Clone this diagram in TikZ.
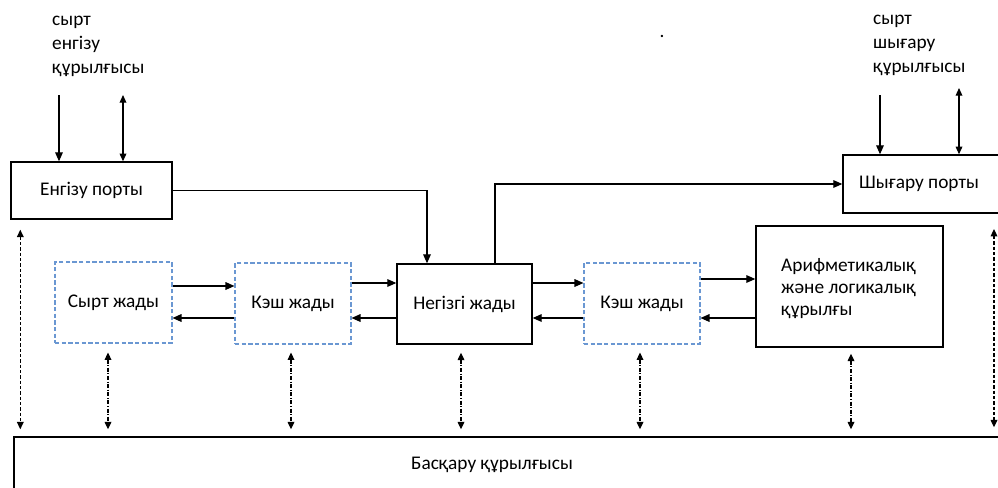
\documentclass[tikz,border=0pt]{standalone}
\usepackage{fontspec}
\setmainfont{Carlito}
\usetikzlibrary{
  arrows.meta,
  positioning,
}
\definecolor{cacheBlue}{HTML}{6A97D2}
\tikzset{
  unitbox/.style={
    rectangle, draw=black, line width=1.2pt, fill=white, inner sep=0pt,
    align=center, font=\fontsize{16.5}{20}\selectfont,
  },
  cachebox/.style={
    unitbox, draw=cacheBlue, line width=0.9pt,
    dash pattern=on 1.3mm off 0.7mm,
  },
  plainlabel/.style={
    inner sep=0pt, align=left, font=\fontsize{16.5}{20.5}\selectfont,
  },
  arrowMain/.style={
    -{Triangle[length=2.7mm,width=2.3mm]}, line width=1pt, draw=black,
  },
  arrowBoth/.style={
    {Triangle[length=2.3mm,width=2mm]}-{Triangle[length=2.3mm,width=2mm]},
    line width=1pt, draw=black,
  },
  ctrlDashDot/.style={
    {Triangle[length=2.2mm,width=2mm]}-{Triangle[length=2.2mm,width=2mm]},
    line width=1pt, draw=black,
    dash pattern=on 1.2mm off 0.5mm on 0.25mm off 0.5mm,
  },
  ctrlDash/.style={
    {Triangle[length=2.2mm,width=2mm]}-{Triangle[length=2.2mm,width=2mm]},
    line width=1pt, draw=black, dash pattern=on 1mm off 0.6mm,
  },
}

\begin{document}
\begin{tikzpicture}[x=0.3mm, y=-0.3mm]
\useasboundingbox (0,0) rectangle (998,488);

% top labels
\node[plainlabel, anchor=west] (inDevice) at (52,46) {сырт\\енгізу\\құрылғысы};
\node[plainlabel, anchor=west] (outDevice) at (873,45) {сырт\\шығару\\құрылғысы};
\node[plainlabel, anchor=base] (stray) at (662,37) {.};

% ports
\node[unitbox, minimum width=48.3mm, minimum height=17.1mm] (inport) at (91.5,190.5) {Енгізу порты};
\node[unitbox, minimum width=48.6mm, minimum height=17.4mm] (outport) at (924,184) {\hspace*{-3mm}Шығару порты};

% memory chain
\node[cachebox, minimum width=35.1mm, minimum height=24.3mm] (extmem) at (113.5,302.5) {Сырт жады};
\node[cachebox, minimum width=34.8mm, minimum height=24.3mm] (cacheA) at (293,303.5) {\raisebox{1mm}{Кэш жады}};
\node[unitbox, minimum width=40.5mm, minimum height=24mm] (mainmem) at (464.5,304) {Негізгі жады};
\node[cachebox, minimum width=34.8mm, minimum height=24.3mm] (cacheB) at (642,303.5) {\raisebox{1mm}{Кэш жады}};
\node[unitbox, minimum width=56.1mm, minimum height=36.3mm] (alu) at (849.5,286.5) {};
\node[plainlabel, anchor=west] (aluText) at (781,289) {Арифметикалық\\[-0.6mm]және логикалық\\[-0.6mm]құрылғы};

% control unit
\node[unitbox, minimum width=298.8mm, minimum height=18.9mm] (ctrl) at (512,468.5) {};
\node[plainlabel] (ctrlText) at (492,465) {Басқару құрылғысы};

% external devices
\coordinate (inSrc) at (59,95);
\coordinate (inLink) at (123,95);
\coordinate (outSrc) at (880,95);
\coordinate (outLink) at (959,88);
\draw[arrowMain] (inSrc) -- (inSrc |- inport.north);
\draw[arrowBoth] (inLink) -- (inLink |- inport.north);
\draw[arrowMain] (outSrc) -- (outSrc |- outport.north);
\draw[arrowBoth] (outLink) -- (outLink |- outport.north);

% port links
\draw[arrowMain] (inport.east) -| ([xshift=-11.25mm]mainmem.north);
\draw[arrowMain] ([xshift=9.15mm]mainmem.north) |- (outport.west);

% data paths
\draw[arrowMain] ([yshift=4.95mm]extmem.east) -- ([yshift=4.95mm]extmem.east -| cacheA.west);
\draw[arrowMain] ([yshift=-4.65mm]extmem.east -| cacheA.west) -- ([yshift=-4.65mm]extmem.east);
\draw[arrowMain] ([yshift=6.15mm]cacheA.east) -- ([yshift=6.15mm]cacheA.east -| mainmem.west);
\draw[arrowMain] ([yshift=-4.35mm]cacheA.east -| mainmem.west) -- ([yshift=-4.35mm]cacheA.east);
\draw[arrowMain] ([yshift=6.3mm]mainmem.east) -- ([yshift=6.3mm]mainmem.east -| cacheB.west);
\draw[arrowMain] ([yshift=-4.2mm]mainmem.east -| cacheB.west) -- ([yshift=-4.2mm]mainmem.east);
\draw[arrowMain] ([yshift=7.35mm]cacheB.east) -- ([yshift=7.35mm]cacheB.east -| alu.west);
\draw[arrowMain] ([yshift=-4.35mm]cacheB.east -| alu.west) -- ([yshift=-4.35mm]cacheB.east);

% control lines
\draw[ctrlDashDot] ([xshift=-1.65mm,yshift=-2.7mm]extmem.south) -- ([xshift=-1.65mm,yshift=2.1mm]extmem.south |- ctrl.north);
\draw[ctrlDashDot] ([xshift=-0.6mm,yshift=-2.4mm]cacheA.south) -- ([xshift=-0.6mm,yshift=2.1mm]cacheA.south |- ctrl.north);
\draw[ctrlDashDot] ([xshift=-1.05mm,yshift=-2.4mm]mainmem.south) -- ([xshift=-1.05mm,yshift=2.1mm]mainmem.south |- ctrl.north);
\draw[ctrlDashDot] ([xshift=-0.6mm,yshift=-2.4mm]cacheB.south) -- ([xshift=-0.6mm,yshift=2.1mm]cacheB.south |- ctrl.north);
\draw[ctrlDashDot] ([xshift=0.45mm,yshift=-1.8mm]alu.south) -- ([xshift=0.45mm,yshift=2.1mm]alu.south |- ctrl.north);
\coordinate (outBus) at (994,229);
\draw[ctrlDash] ([xshift=3mm,yshift=-3mm]inport.south west) -- ([xshift=3mm,yshift=2.1mm]inport.south west |- ctrl.north);
\draw[ctrlDash] (outBus) -- ([yshift=2.7mm]outBus |- ctrl.north);

\end{tikzpicture}
\end{document}
